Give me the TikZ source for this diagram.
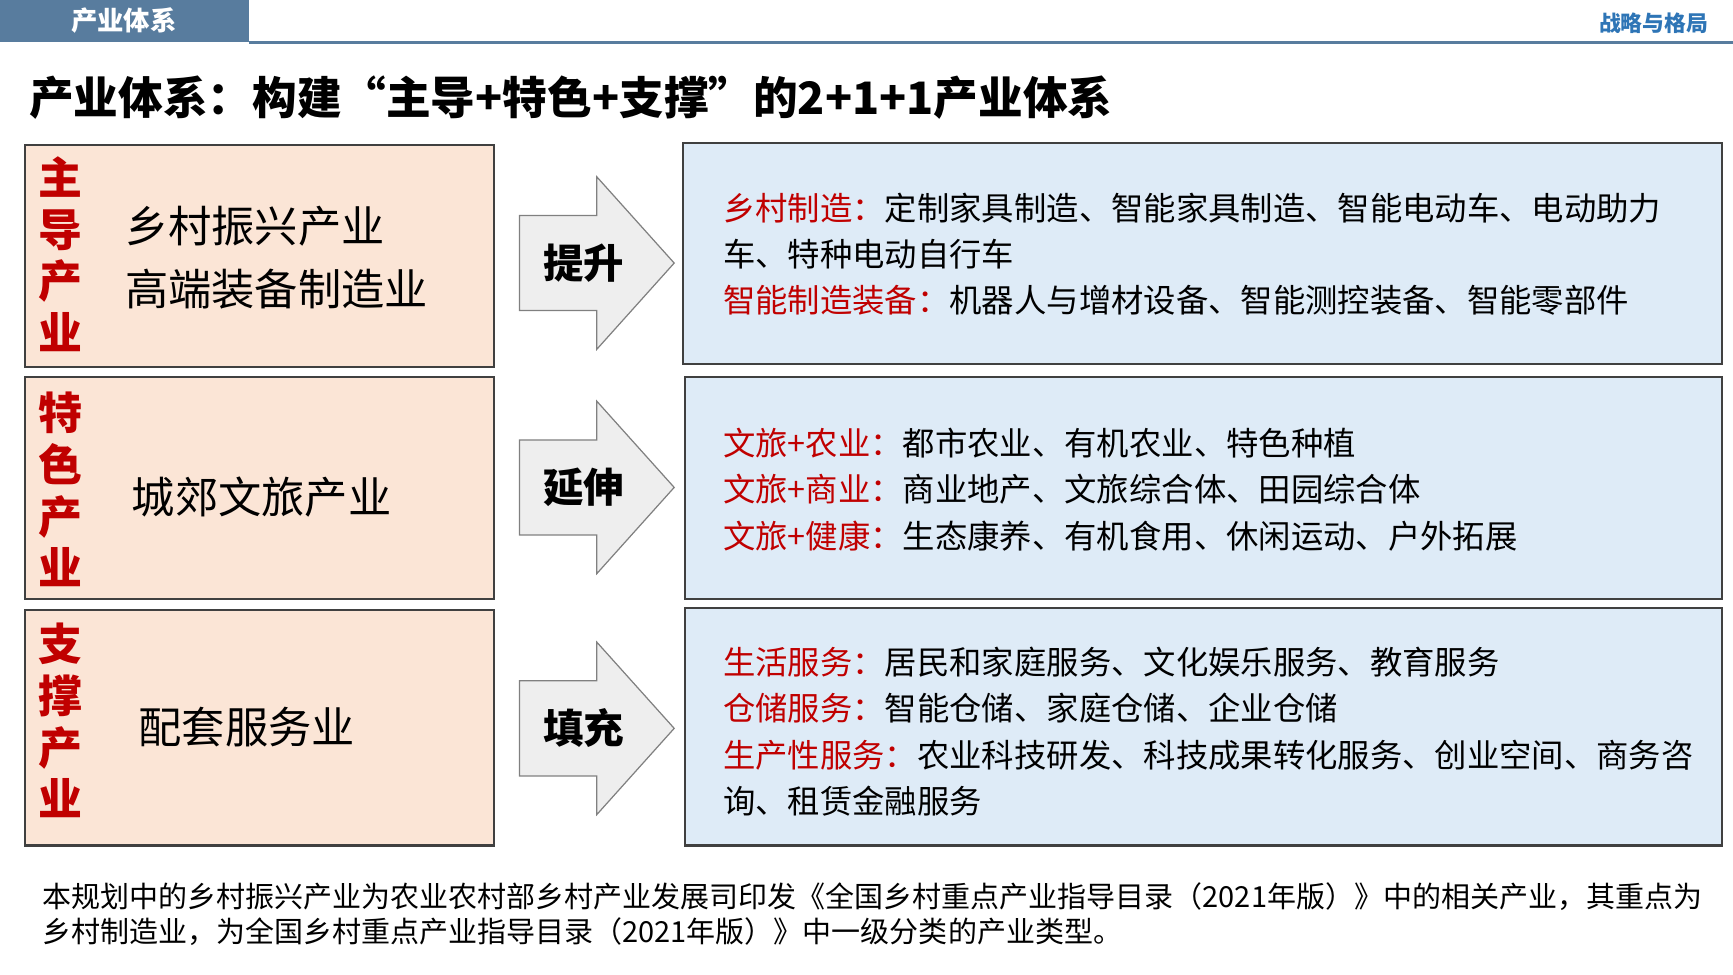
\documentclass[tikz,border=0pt]{standalone}
\usepackage{fontspec}
\usepackage{xcolor}
\usepackage{tikz}
\usetikzlibrary{positioning}
\setmainfont{Noto Sans CJK SC}
\definecolor{hdblue}{RGB}{88, 124, 158}
\definecolor{tagblue}{RGB}{46, 117, 182}
\definecolor{myred}{RGB}{192, 0, 0}
\definecolor{mypeach}{RGB}{251, 229, 214}
\definecolor{mylblue}{RGB}{222, 235, 247}
\definecolor{myframe}{RGB}{64, 64, 64}
\definecolor{myarrow}{RGB}{238, 238, 238}
\tikzset{
    leftbox/.style={draw=myframe, fill=mypeach, line width=1.2pt},
    rightbox/.style={draw=myframe, fill=mylblue, line width=1.2pt},
    tagtext/.style={myred, inner sep=0pt, align=center, font=\bfseries\fontsize{25pt}{29.4pt}\selectfont},
    maintext/.style={anchor=west, inner sep=0pt, align=left, font=\fontsize{24.6pt}{35.7pt}\selectfont},
    listtext/.style={anchor=west, inner sep=0pt, align=left, font=\fontsize{18.4pt}{26.3pt}\selectfont},
    bigarrow/.style={draw=gray, fill=myarrow, line width=0.7pt},
}
\begin{document}
\begin{tikzpicture}[x=0.0221cm, y=-0.0221cm]
    \useasboundingbox (0,0) rectangle (1568,882);
    % 页眉
    \fill[hdblue] (0,0) rectangle (225,38);
    \draw[hdblue, line width=1.8pt] (225,38.5) -- (1568,38.5);
    \node[white, font=\bfseries\fontsize{15pt}{17pt}\selectfont] (hdtitle) at (112,19) {产业体系};
    \node[tagblue, anchor=east, font=\bfseries\fontsize{12.4pt}{14pt}\selectfont] (hdtag) at (1551,21) {战略与格局};
    \node[anchor=west, inner sep=0pt, font=\bfseries\fontsize{25.4pt}{30pt}\selectfont] (title) at (26,88) {产业体系：构建“主导+特色+支撑”的2+1+1产业体系};

    % 左侧三类产业
    \draw[leftbox] (23,131) rectangle (447,332);
    \draw[leftbox] (23,341) rectangle (447,542);
    \draw[leftbox] (23,552) rectangle (447,765);
    \node[tagtext] (zhudao) at (55,230) {主\\导\\产\\业};
    \node[tagtext] (tese) at (55,443) {特\\色\\产\\业};
    \node[tagtext] (zhicheng) at (55,652) {支\\撑\\产\\业};
    \node[maintext] (zhudaotxt) at (113,233) {乡村振兴产业\\高端装备制造业};
    \node[maintext] (tesetxt) at (119,450) {城郊文旅产业};
    \node[maintext] (zhichengtxt) at (125,658) {配套服务业};

    % 箭头
    \foreach \y/\t/\n in {238/提升/up, 441/延伸/ext, 659/填充/fill} {
        \draw[bigarrow] (470,\y-43) -- (540,\y-43) -- (540,\y-78) -- (610,\y)
            -- (540,\y+78) -- (540,\y+43) -- (470,\y+43) -- cycle;
        \node[font=\bfseries\fontsize{23pt}{26pt}\selectfont] (\n) at (528,\y) {\t};
    }

    % 右侧说明
    \draw[rightbox] (618,129) rectangle (1558,329);
    \draw[rightbox] (620,341) rectangle (1558,542);
    \draw[rightbox] (620,550) rectangle (1558,765);
    \node[listtext] (zhudaolist) at (654,230) {{\color{myred}乡村制造：}定制家具制造、智能家具制造、智能电动车、电动助力\\车、特种电动自行车\\{\color{myred}智能制造装备：}机器人与增材设备、智能测控装备、智能零部件};
    \node[listtext] (teselist) at (654,443) {{\color{myred}文旅+农业：}都市农业、有机农业、特色种植\\{\color{myred}文旅+商业：}商业地产、文旅综合体、田园综合体\\{\color{myred}文旅+健康：}生态康养、有机食用、休闲运动、户外拓展};
    \node[listtext] (zhichenglist) at (654,662) {{\color{myred}生活服务：}居民和家庭服务、文化娱乐服务、教育服务\\{\color{myred}仓储服务：}智能仓储、家庭仓储、企业仓储\\{\color{myred}生产性服务：}农业科技研发、科技成果转化服务、创业空间、商务咨\\询、租赁金融服务};

    % 脚注
    \node[anchor=west, inner sep=0pt, align=left, font=\fontsize{16.5pt}{20pt}\selectfont] (note) at (38,827) {本规划中的乡村振兴产业为农业农村部乡村产业发展司印发《全国乡村重点产业指导目录（2021年版）》中的相关产业，其重点为\\乡村制造业，为全国乡村重点产业指导目录（2021年版）》中一级分类的产业类型。};
\end{tikzpicture}
\end{document}
